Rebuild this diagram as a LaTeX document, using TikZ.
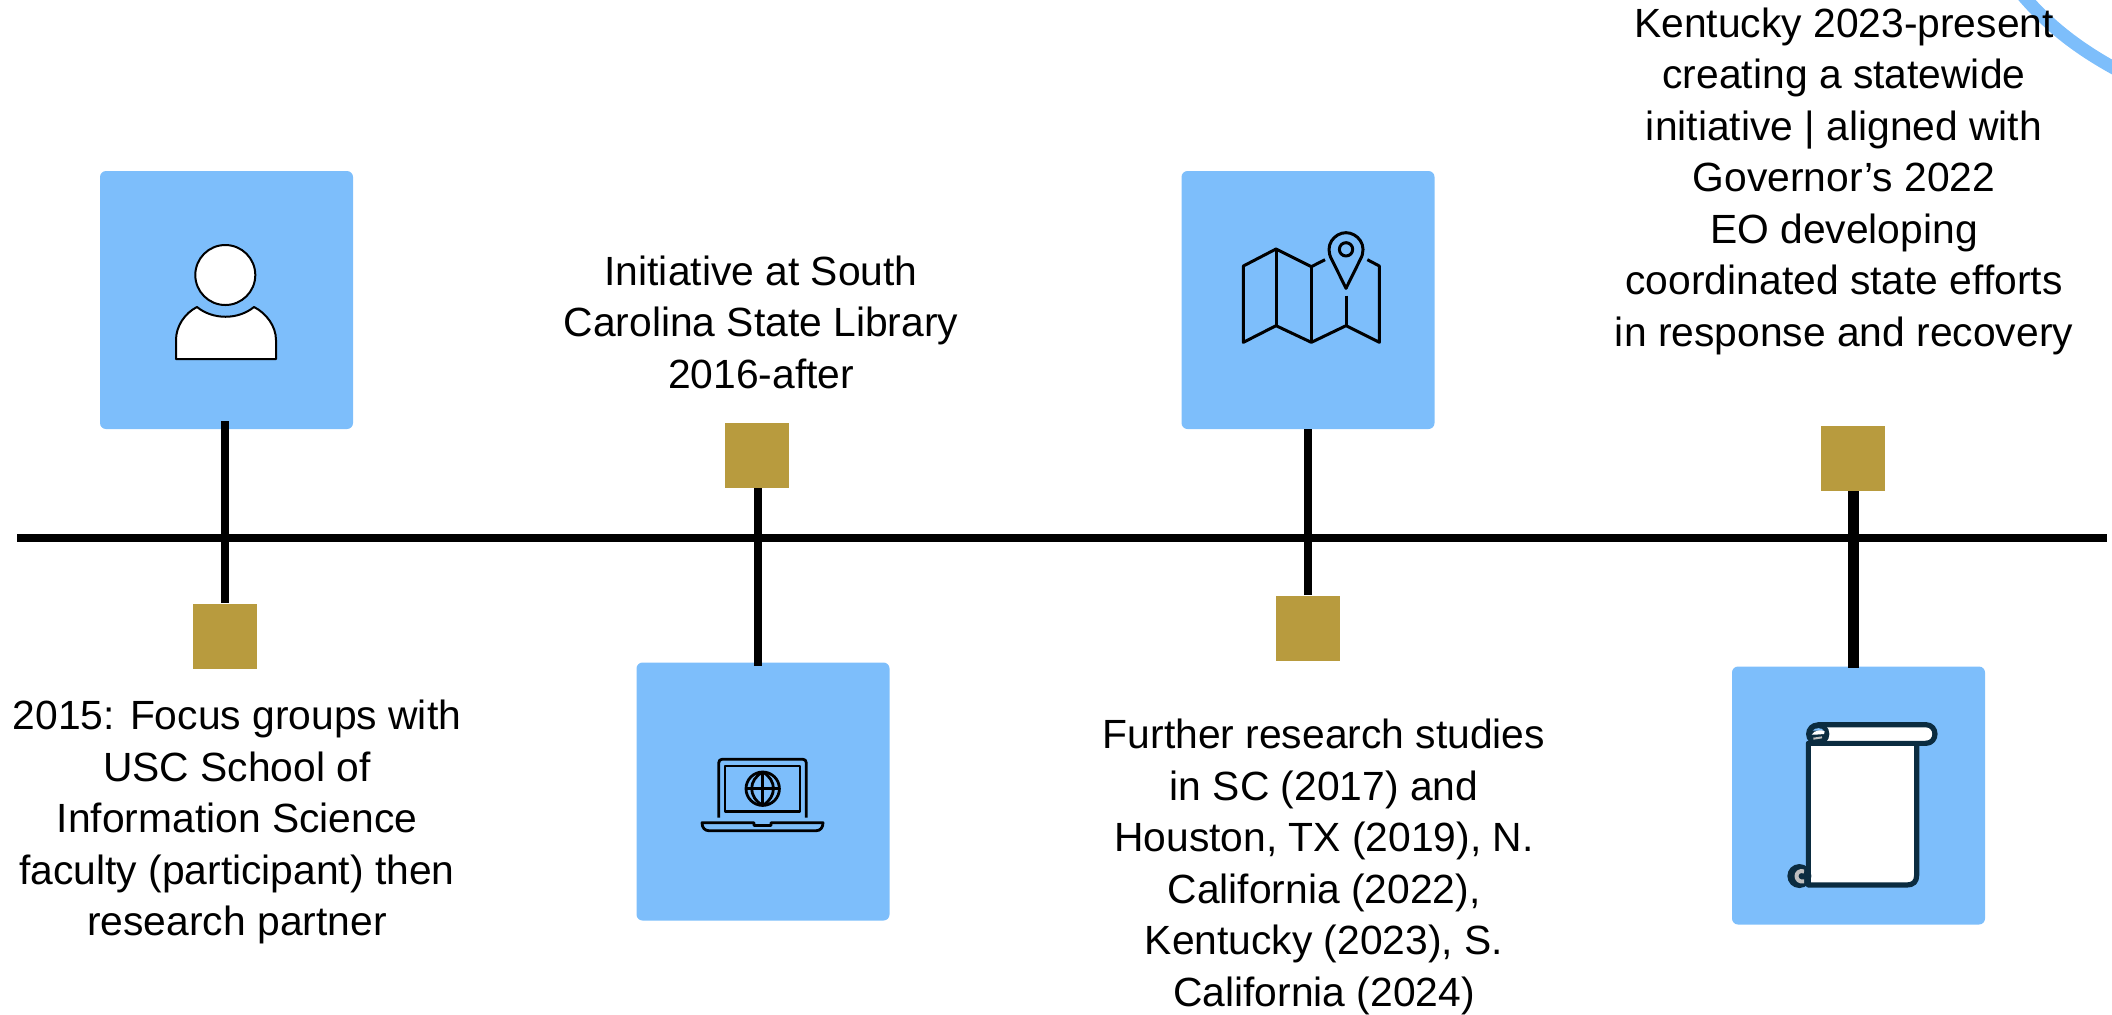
\documentclass[tikz,border=0pt]{standalone}
\usepackage{fontspec}
\setmainfont{Liberation Sans}
\definecolor{skyb}{HTML}{7DBEFB}
\definecolor{goldb}{HTML}{B89B3E}
\definecolor{navyd}{HTML}{0B2C40}
\tikzset{
  bluebox/.style={fill=skyb,rounded corners=3pt,minimum width=126.5pt,minimum height=129pt,inner sep=0pt,draw=none},
  goldsq/.style={fill=goldb,minimum width=32pt,minimum height=32.5pt,inner sep=0pt,draw=none},
  stem/.style={line width=4pt,draw=black},
  axisline/.style={line width=4pt,draw=black},
  label/.style={align=center,font=\fontsize{20.4}{25.75}\selectfont,inner sep=0pt},
  ic/.style={line width=1.4pt,line join=round},
}
\begin{document}
\begin{tikzpicture}[x=0.5pt,y=-0.5pt]
\useasboundingbox (0,0) rectangle (2112,1014);
\draw[draw=skyb,line width=6.5pt] (2020,-8) .. controls (2045,22) and (2075,48) .. (2125,74);
\coordinate (axL) at (17,538);
\coordinate (axR) at (2107,538);
\node[bluebox] (b1) at (226.5,300) {};
\node[bluebox] (b2) at (763,791.5) {};
\node[bluebox] (b3) at (1308,300) {};
\node[bluebox] (b4) at (1858.5,795.5) {};
\node[goldsq] (g1) at (225,636) {};
\node[goldsq] (g2) at (757,455.5) {};
\node[goldsq] (g3) at (1308,628) {};
\node[goldsq] (g4) at (1853,458.5) {};
\draw[stem] (g1.north) -- ([yshift=4pt]b1.south -| g1.north);
\draw[stem] ([xshift=0.5pt]g2.south) -- ([xshift=0.5pt,yshift=-2pt]b2.north -| g2.south);
\draw[stem] (g3.north) -- (b3.south -| g3.north);
\draw[stem,line width=5.3pt] ([xshift=0.35pt]g4.south) -- ([xshift=0.35pt,yshift=-1pt]b4.north -| g4.south);
\draw[axisline] (axL) -- (axR);
\node[label] (t1) at (237,822) {2015: Focus groups with\\USC School of\\Information Science\\faculty (participant) then\\research partner};
\node[label] (t2) at (761,322) {Initiative at South\\Carolina State Library\\2016-after};
\node[label] (t3) at (1324,867) {Further research studies\\in SC (2017) and\\Houston, TX (2019), N.\\California (2022),\\Kentucky (2023), S.\\California (2024)};
\node[label] (t4) at (1844,181) {Kentucky 2023-present\\creating a statewide\\initiative | aligned with\\Governor’s 2022\\EO developing\\coordinated state efforts\\in response and recovery};
% person
\begin{scope}[ic,line width=1pt]
\draw[fill=white] (225.3,275) circle[radius=30];
\draw[fill=white] (176,359) -- (176,340) .. controls (176,326) and (185,313) .. (197,307) .. controls (213,320) and (238,320) .. (254,307) .. controls (266,313) and (276,326) .. (276,340) -- (276,359) -- cycle;
\end{scope}
% laptop
\begin{scope}[ic]
\draw (718.7,817.7) -- (718.7,763) .. controls (718.7,760.5) and (720,759.3) .. (722,759.3) -- (803,759.3) .. controls (805,759.3) and (806.3,760.5) .. (806.3,763) -- (806.3,817.7);
\draw (725,766) rectangle (800,811.7);
\draw (762.7,788.7) circle[radius=16.7];
\draw (746,788.7) -- (779.4,788.7);
\draw (762.7,772) -- (762.7,805.4);
\draw (762.7,772) .. controls (748,780) and (748,797) .. (762.7,805.4);
\draw (762.7,772) .. controls (777,780) and (777,797) .. (762.7,805.4);
\draw (702,822.7) -- (754,822.7) -- (754,825.5) -- (771,825.5) -- (771,822.7) -- (823,822.7) .. controls (823,828) and (820,830.7) .. (816,830.7) -- (709,830.7) .. controls (705,830.7) and (702,828) .. (702,822.7) -- cycle;
\end{scope}
% map
\begin{scope}[ic,line width=1.5pt,shift={(1170,160)},x=0.16667pt,y=-0.16667pt]
\draw (465,299) -- (424,320) -- (318,267) -- (220,318) -- (220,547) -- (318,497) -- (424,547) -- (528,497) -- (628,547) -- (628,318) -- (592,299);
\draw (318,267) -- (318,497);
\draw (424,320) -- (424,547);
\draw (528,407) -- (528,497);
\draw (528,385) -- (486,300) .. controls (460,255) and (495,218) .. (528,218) .. controls (561,218) and (596,255) .. (570,300) -- cycle;
\draw (528,268) circle[radius=20];
\end{scope}
% scroll
\begin{scope}[line width=2.6pt,draw=navyd,line join=round,shift={(1720,660)},x=0.16667pt,y=-0.16667pt]
\draw[navyd,fill=white] (265,250) -- (265,675) -- (560,675) .. controls (580,675) and (590,665) .. (590,645) -- (590,250) -- cycle;
\draw[navyd,fill=white] (293,194) -- (617,194) .. controls (654,194) and (654,250) .. (617,250) -- (293,250);
\fill[navyd] (293,222) circle[radius=35];
\fill[skyb] (278,212) .. controls (285,202) and (305,202) .. (312,212) -- cycle;
\fill[white] (275,224) .. controls (282,210) and (305,208) .. (314,214) -- (312,222) -- (285,224) -- cycle;
\draw[line width=1pt,draw=lightgray] (280,236) -- (306,232);
\fill[navyd] (238,648) circle[radius=36];
\draw[line width=2pt,draw=lightgray] (252,634) .. controls (222,626) and (222,670) .. (252,664);
\end{scope}
\end{tikzpicture}
\end{document}
